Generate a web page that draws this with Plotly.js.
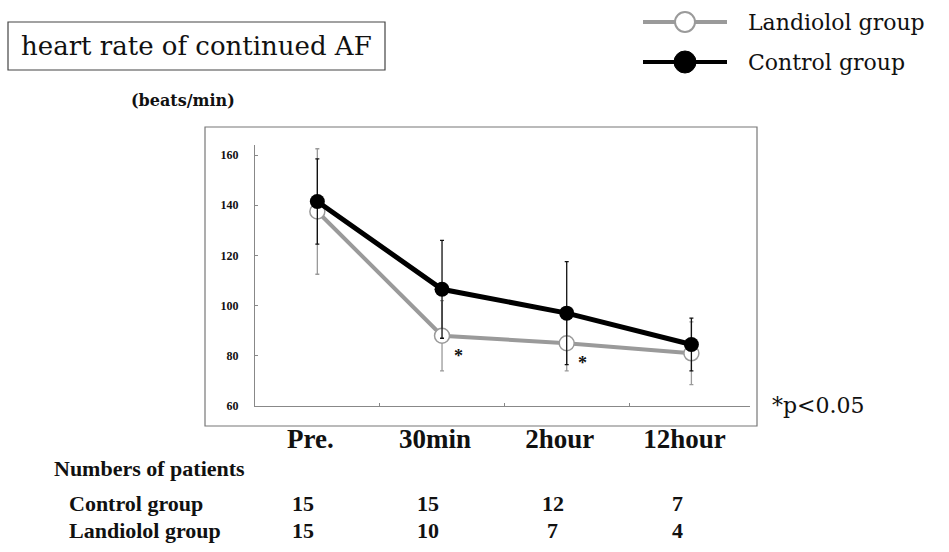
<!DOCTYPE html>
<html><head><meta charset="utf-8">
<script src="https://cdn.plot.ly/plotly-3.0.1.min.js"></script>
<style>body{margin:0;background:#fff}#c{width:949px;height:552px}</style>
</head><body><div id="c"></div>
<script>
const categories = ['Pre.', '30min', '2hour', '12hour'];
const controlMean = [141.5, 106.5, 97, 84.5];
const controlSD = [17, 19.5, 20.5, 10.5];
const landiololMean = [137.5, 88, 85, 81];
const landiololSD = [25, 14, 11, 12.5];
const controlN = [15, 15, 12, 7];
const landiololN = [15, 10, 7, 4];
const sigPoints = ['30min', '2hour'];
const sigY = [79.9, 77.3];
const yTicks = [60, 80, 100, 120, 140, 160];

const serif = 'Liberation Serif';
const wide = 'DejaVu Serif';

const traces = [
  {
    x: categories, y: landiololMean, type: 'scatter', mode: 'lines+markers', name: 'Landiolol group',
    line: {color: '#9a9a9a', width: 4},
    marker: {symbol: 'circle', size: 15, color: '#ffffff', line: {color: '#9a9a9a', width: 1.5}},
    error_y: {type: 'data', array: landiololSD, visible: true, color: '#9a9a9a', thickness: 1.3, width: 2}
  },
  {
    x: categories, y: controlMean, type: 'scatter', mode: 'lines+markers', name: 'Control group',
    line: {color: '#000000', width: 5},
    marker: {symbol: 'circle', size: 15, color: '#000000'},
    error_y: {type: 'data', array: controlSD, visible: true, color: '#111111', thickness: 1.3, width: 2}
  }
];

const L = 255, R = 750, T = 145, B = 406;
const px = v => (v - L) / (R - L);
const py = v => (B - v) / (B - T);

function txt(x, y, text, size, anchor, fam) {
  return {xref:'paper', yref:'paper', x: px(x), y: py(y), text: text, showarrow:false,
    xanchor: anchor || 'left', yanchor:'middle', font:{family: fam || serif, size: size, color:'#111'}};
}

const annotations = [];
annotations.push(txt(196, 46, 'heart rate of continued AF', 26, 'center', wide));
annotations.push(txt(183, 101, '<b>(beats/min)</b>', 16, 'center', wide));
annotations.push(txt(770, 405, '*p&lt;0.05', 22, 'left', wide));
annotations.push(txt(746, 22, 'Landiolol group', 22, 'left', wide));
annotations.push(txt(746, 62, 'Control group', 22, 'left', wide));
sigPoints.forEach((c, i) => annotations.push({xref:'x', yref:'y', x: c, y: sigY[i], xshift: 16, text: '<b>*</b>',
  showarrow:false, xanchor:'center', yanchor:'middle', font:{family: serif, size: 18, color:'#111'}}));
annotations.push(txt(52, 468, '<b>Numbers of patients</b>', 22, 'left'));
annotations.push(txt(67, 503, '<b>Control group</b>', 22, 'left'));
annotations.push(txt(67, 530, '<b>Landiolol group</b>', 22, 'left'));
categories.forEach((c, i) => {
  annotations.push({xref:'x', yref:'paper', x: c, y: py(503), xshift: -14, text: '<b>' + controlN[i] + '</b>',
    showarrow:false, xanchor:'center', yanchor:'middle', font:{family: serif, size: 22, color:'#111'}});
  annotations.push({xref:'x', yref:'paper', x: c, y: py(530), xshift: -14, text: '<b>' + landiololN[i] + '</b>',
    showarrow:false, xanchor:'center', yanchor:'middle', font:{family: serif, size: 22, color:'#111'}});
});

const shapes = [
  {type:'rect', xref:'paper', yref:'paper', x0: px(205), x1: px(757), y0: py(426), y1: py(127),
   line:{color:'#777', width:1.2}},
  {type:'rect', xref:'paper', yref:'paper', x0: px(8), x1: px(385), y0: py(70), y1: py(22),
   line:{color:'#444', width:1.2}},
  {type:'line', xref:'paper', yref:'paper', x0: px(643), x1: px(727), y0: py(22), y1: py(22),
   line:{color:'#9a9a9a', width:4}},
  {type:'line', xref:'paper', yref:'paper', x0: px(643), x1: px(727), y0: py(62), y1: py(62),
   line:{color:'#000', width:4}},
  {type:'circle', xref:'paper', yref:'paper', x0: px(675), x1: px(695), y0: py(32), y1: py(12),
   fillcolor:'#fff', line:{color:'#9a9a9a', width:2}},
  {type:'circle', xref:'paper', yref:'paper', x0: px(674), x1: px(696), y0: py(73), y1: py(51),
   fillcolor:'#000', line:{color:'#000', width:1}}
];

const layout = {
  width: 949, height: 552,
  margin: {l: L, r: 949 - R, t: T, b: 552 - B, pad: 0},
  paper_bgcolor: '#fff', plot_bgcolor: '#fff',
  showlegend: false,
  xaxis: {
    type: 'category', categoryarray: categories, range: [-0.5, 3.47],
    showline: true, linecolor: '#888', linewidth: 1,
    showgrid: false, zeroline: false,
    ticks: 'inside', ticklen: 3, tickcolor: '#888', tickson: 'boundaries',
    tickfont: {family: serif, size: 27, color: '#111', weight: 'bold'},
    ticklabelstandoff: 9, ticklabelshift: -7
  },
  yaxis: {
    range: [60, 164], tickvals: yTicks, ticktext: yTicks.map(String),
    showline: true, linecolor: '#888', linewidth: 1,
    showgrid: false, zeroline: false,
    ticks: 'inside', ticklen: 3, tickcolor: '#888',
    tickfont: {family: serif, size: 12, color: '#111', weight: 'bold'},
    ticklabelstandoff: 13
  },
  annotations: annotations,
  shapes: shapes
};

Plotly.newPlot('c', traces, layout, {displayModeBar: false, staticPlot: true});
</script>
</body></html>
